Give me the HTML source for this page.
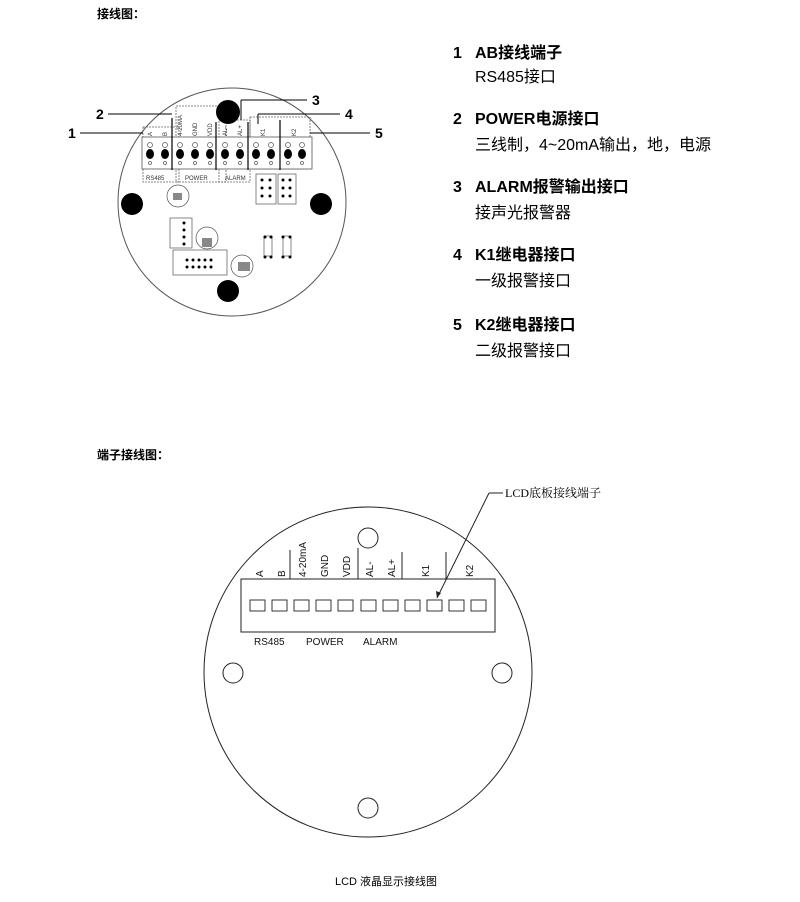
<!DOCTYPE html>
<html><head><meta charset="utf-8"><style>
body{margin:0;background:#fff;width:800px;height:902px;overflow:hidden;font-family:"Liberation Sans","Noto Sans CJK SC",sans-serif}
svg{position:absolute;left:0;top:0}
</style></head><body>
<svg width="800" height="902" viewBox="0 0 800 902" font-family="Liberation Sans, Noto Sans CJK SC, sans-serif">
<text x="97" y="18" font-size="12" font-weight="bold">接线图：</text>
<text x="97" y="459" font-size="12" font-weight="bold">端子接线图：</text>

<!-- top PCB -->
<circle cx="232" cy="202" r="114" fill="none" stroke="#555" stroke-width="1"/>
<g stroke="#666" fill="none" stroke-width="0.8" stroke-dasharray="2,1">
<rect x="143" y="127" width="36" height="55"/><rect x="176" y="106" width="50" height="76"/>
<rect x="219" y="120" width="31" height="62"/><rect x="250" y="117" width="60" height="52"/>
</g>
<rect x="142" y="137" width="170" height="32" fill="#fff" stroke="#555" stroke-width="0.8"/>
<g fill="#000">
<ellipse cx="150" cy="154" rx="4" ry="5"/><ellipse cx="165" cy="154" rx="4" ry="5"/><ellipse cx="180" cy="154" rx="4" ry="5"/><ellipse cx="195" cy="154" rx="4" ry="5"/><ellipse cx="210" cy="154" rx="4" ry="5"/><ellipse cx="225" cy="154" rx="4" ry="5"/><ellipse cx="240" cy="154" rx="4" ry="5"/><ellipse cx="256" cy="154" rx="4" ry="5"/><ellipse cx="271" cy="154" rx="4" ry="5"/><ellipse cx="288" cy="154" rx="4" ry="5"/><ellipse cx="302" cy="154" rx="4" ry="5"/>
<circle cx="228" cy="112" r="12"/><circle cx="132" cy="204" r="11"/><circle cx="321" cy="204" r="11"/><circle cx="228" cy="291" r="11"/>
</g>
<g fill="none" stroke="#555" stroke-width="0.7">
<circle cx="150" cy="145" r="2.5"/><circle cx="165" cy="145" r="2.5"/><circle cx="180" cy="145" r="2.5"/><circle cx="195" cy="145" r="2.5"/><circle cx="210" cy="145" r="2.5"/><circle cx="225" cy="145" r="2.5"/><circle cx="240" cy="145" r="2.5"/><circle cx="256" cy="145" r="2.5"/><circle cx="271" cy="145" r="2.5"/><circle cx="288" cy="145" r="2.5"/><circle cx="302" cy="145" r="2.5"/>
<circle cx="150" cy="163" r="1.5"/><circle cx="165" cy="163" r="1.5"/><circle cx="180" cy="163" r="1.5"/><circle cx="195" cy="163" r="1.5"/><circle cx="210" cy="163" r="1.5"/><circle cx="225" cy="163" r="1.5"/><circle cx="240" cy="163" r="1.5"/><circle cx="256" cy="163" r="1.5"/><circle cx="271" cy="163" r="1.5"/><circle cx="288" cy="163" r="1.5"/><circle cx="302" cy="163" r="1.5"/>
<rect x="256" y="174" width="20" height="30"/><rect x="278" y="174" width="18" height="30"/>
<rect x="170" y="218" width="22" height="30"/><rect x="173" y="250" width="54" height="25"/>
<circle cx="178" cy="196" r="11"/><circle cx="207" cy="238" r="11"/><circle cx="242" cy="266" r="11"/>
<rect x="264" y="236" width="8" height="20"/><rect x="283" y="236" width="8" height="20"/>
</g>
<g font-size="6" fill="#333"><text x="146" y="180">RS485</text><text x="185" y="180">POWER</text><text x="225" y="180">ALARM</text>
<text transform="translate(152,136) rotate(-90)">A</text><text transform="translate(167,136) rotate(-90)">B</text>
<text transform="translate(182,136) rotate(-90)">4-20MA</text><text transform="translate(197,136) rotate(-90)">GND</text>
<text transform="translate(212,136) rotate(-90)">VDD</text><text transform="translate(227,136) rotate(-90)">AL-</text>
<text transform="translate(242,136) rotate(-90)">AL+</text><text transform="translate(265,136) rotate(-90)">K1</text>
<text transform="translate(296,136) rotate(-90)">K2</text></g>
<g stroke="#000" stroke-width="1.2"><line x1="172" y1="118" x2="172" y2="170"/><line x1="216" y1="122" x2="216" y2="170"/><line x1="248" y1="122" x2="248" y2="170"/><line x1="280" y1="120" x2="280" y2="170"/></g>
<g fill="#000">
<circle cx="262" cy="180" r="1.5"/><circle cx="270" cy="180" r="1.5"/><circle cx="262" cy="188" r="1.5"/><circle cx="270" cy="188" r="1.5"/><circle cx="262" cy="196" r="1.5"/><circle cx="270" cy="196" r="1.5"/>
<circle cx="283" cy="180" r="1.5"/><circle cx="290" cy="180" r="1.5"/><circle cx="283" cy="188" r="1.5"/><circle cx="290" cy="188" r="1.5"/><circle cx="283" cy="196" r="1.5"/><circle cx="290" cy="196" r="1.5"/>
<circle cx="184" cy="223" r="1.5"/><circle cx="184" cy="230" r="1.5"/><circle cx="184" cy="237" r="1.5"/><circle cx="184" cy="244" r="1.5"/>
<circle cx="187" cy="260" r="1.5"/><circle cx="193" cy="260" r="1.5"/><circle cx="199" cy="260" r="1.5"/><circle cx="205" cy="260" r="1.5"/><circle cx="211" cy="260" r="1.5"/>
<circle cx="187" cy="267" r="1.5"/><circle cx="193" cy="267" r="1.5"/><circle cx="199" cy="267" r="1.5"/><circle cx="205" cy="267" r="1.5"/><circle cx="211" cy="267" r="1.5"/>
<circle cx="265" cy="237" r="1.5"/><circle cx="271" cy="237" r="1.5"/><circle cx="265" cy="257" r="1.5"/><circle cx="271" cy="257" r="1.5"/>
<circle cx="283" cy="237" r="1.5"/><circle cx="290" cy="237" r="1.5"/><circle cx="283" cy="257" r="1.5"/><circle cx="290" cy="257" r="1.5"/>
<rect x="173" y="193" width="9" height="7" fill="#888"/><rect x="202" y="238" width="10" height="9" fill="#888"/><rect x="238" y="262" width="12" height="9" fill="#888"/>
</g>
<!-- leader lines -->
<g stroke="#000" stroke-width="1">
<line x1="80" y1="133" x2="143" y2="133"/><line x1="108" y1="114" x2="172" y2="114"/>
<line x1="241" y1="100" x2="307" y2="100"/><line x1="241" y1="100" x2="241" y2="120"/>
<line x1="258" y1="114" x2="340" y2="114"/><line x1="258" y1="114" x2="258" y2="124"/>
<line x1="310" y1="133" x2="370" y2="133"/>
</g>
<g font-size="14" font-weight="bold"><text x="68" y="138">1</text><text x="96" y="119">2</text><text x="312" y="105">3</text><text x="345" y="119">4</text><text x="375" y="138">5</text></g>

<!-- right list -->
<g font-size="16">
<g font-weight="bold"><text x="453" y="58">1</text><text x="475" y="58">AB接线端子</text>
<text x="453" y="124">2</text><text x="475" y="124">POWER电源接口</text>
<text x="453" y="192">3</text><text x="475" y="192">ALARM报警输出接口</text>
<text x="453" y="260">4</text><text x="475" y="260">K1继电器接口</text>
<text x="453" y="330">5</text><text x="475" y="330">K2继电器接口</text></g>
<text x="475" y="82">RS485接口</text>
<text x="475" y="150">三线制，4~20mA输出，地，电源</text>
<text x="475" y="218">接声光报警器</text>
<text x="475" y="286">一级报警接口</text>
<text x="475" y="356">二级报警接口</text>
</g>

<!-- bottom -->
<ellipse cx="368" cy="672" rx="164" ry="165" fill="#fff" stroke="#222" stroke-width="1"/>
<circle cx="368" cy="538" r="10" fill="none" stroke="#222"/>
<circle cx="233" cy="673" r="10" fill="none" stroke="#222"/>
<circle cx="502" cy="673" r="10" fill="none" stroke="#222"/>
<circle cx="368" cy="808" r="10" fill="none" stroke="#222"/>
<rect x="241" y="579" width="254" height="53" fill="#fff" stroke="#222"/>
<g fill="#fff" stroke="#222" stroke-width="0.9">
<rect x="250" y="600" width="15" height="11"/><rect x="272" y="600" width="15" height="11"/><rect x="294" y="600" width="15" height="11"/><rect x="316" y="600" width="15" height="11"/><rect x="338" y="600" width="15" height="11"/><rect x="361" y="600" width="15" height="11"/><rect x="383" y="600" width="15" height="11"/><rect x="405" y="600" width="15" height="11"/><rect x="427" y="600" width="15" height="11"/><rect x="449" y="600" width="15" height="11"/><rect x="471" y="600" width="15" height="11"/>
</g>
<g stroke="#222"><line x1="290" y1="550" x2="290" y2="579"/><line x1="358" y1="548" x2="358" y2="579"/><line x1="402" y1="552" x2="402" y2="579"/><line x1="446" y1="552" x2="446" y2="579"/>
<line x1="437" y1="598" x2="489" y2="493"/><line x1="489" y1="493" x2="503" y2="493"/></g>
<path d="M437 598 l-1 -7 l5 2 z" fill="#222"/>
<g font-size="10" fill="#111">
<text transform="translate(263,577) rotate(-90)">A</text><text transform="translate(285,577) rotate(-90)">B</text>
<text transform="translate(306,577) rotate(-90)">4-20mA</text><text transform="translate(328,577) rotate(-90)">GND</text>
<text transform="translate(350,577) rotate(-90)">VDD</text><text transform="translate(373,577) rotate(-90)">AL-</text>
<text transform="translate(395,577) rotate(-90)">AL+</text><text transform="translate(429,577) rotate(-90)">K1</text>
<text transform="translate(473,577) rotate(-90)">K2</text>
<text x="254" y="645">RS485</text><text x="306" y="645">POWER</text><text x="363" y="645">ALARM</text>
</g>
<text x="505" y="497" font-size="12" font-family="Liberation Serif, Noto Serif CJK SC, serif">LCD底板接线端子</text>
<text x="335" y="885" font-size="11">LCD 液晶显示接线图</text>
</svg>
</body></html>
